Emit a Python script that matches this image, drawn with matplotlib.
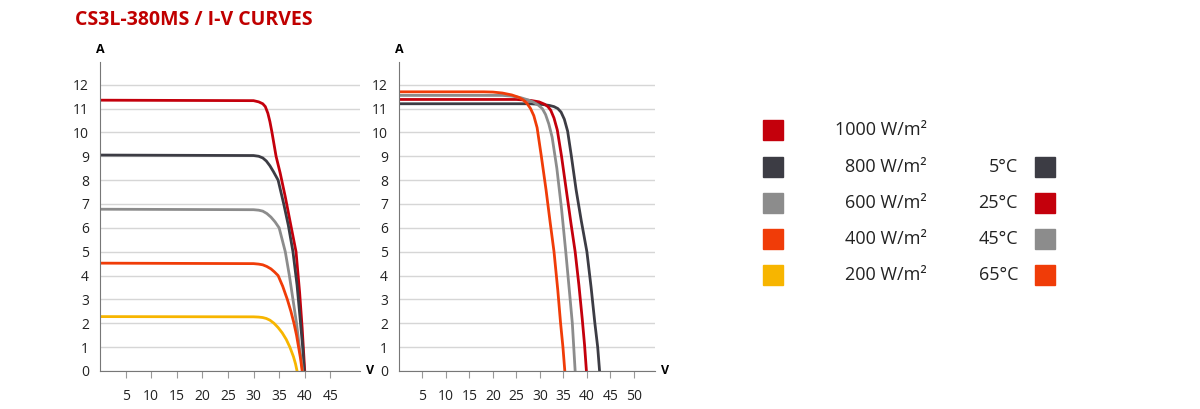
import matplotlib.pyplot as plt

plt.rcParams['font.family'] = ['Open Sans', 'DejaVu Sans']

# left chart: irradiance curves
v_1000 = [0, 30, 31, 31.8, 32.3, 32.8, 33.2, 33.6, 34.0, 34.4, 35.2, 36.2, 37.2, 38.3, 39.0, 39.5, 40]
i_1000 = [11.35, 11.33, 11.28, 11.2, 11.08, 10.8, 10.45, 10, 9.5, 9, 8.3, 7.3, 6.2, 5, 3.3, 1.8, 0]
v_800 = [0, 30, 31, 31.8, 32.5, 33.2, 33.9, 34.8, 35.9, 36.8, 37.7, 38.5, 39.1, 39.6, 39.9]
i_800 = [9.05, 9.03, 9.0, 8.93, 8.8, 8.6, 8.35, 8, 7, 6.1, 5, 3.6, 2.2, 1.0, 0]
v_600 = [0, 30, 31, 31.8, 32.6, 33.4, 34.2, 35, 36.2, 37.0, 37.7, 38.4, 38.9, 39.3, 39.6]
i_600 = [6.78, 6.76, 6.74, 6.7, 6.6, 6.45, 6.25, 6, 5, 4, 3, 2, 1.1, 0.5, 0]
v_400 = [0, 30, 31, 31.8, 32.6, 33.4, 34.1, 34.8, 35.7, 36.6, 37.3, 37.9, 38.4, 38.8, 39.2, 39.5]
i_400 = [4.52, 4.5, 4.48, 4.45, 4.38, 4.28, 4.15, 4, 3.55, 3, 2.5, 2, 1.5, 1, 0.5, 0]
v_200 = [0, 30, 31, 31.8, 32.5, 33.2, 34, 34.8, 35.6, 36.4, 37.1, 37.8, 38.2, 38.5]
i_200 = [2.28, 2.27, 2.26, 2.24, 2.2, 2.13, 2.0, 1.82, 1.6, 1.32, 1, 0.6, 0.3, 0]

# right chart: temperature curves
v_65 = [0, 18, 20, 22, 24, 25.5, 26.5, 27.3, 28, 28.7, 29.4, 30.3, 31.3, 32.2, 33, 33.8, 34.4, 34.9, 35.3]
i_65 = [11.7, 11.7, 11.69, 11.65, 11.57, 11.47, 11.35, 11.2, 11, 10.7, 10.2, 9, 7.6, 6.2, 5, 3.4, 2, 1, 0]
v_45 = [0, 22, 24, 26, 27.5, 28.6, 29.6, 30.5, 31.2, 31.9, 32.6, 33.6, 34.6, 35.5, 36.3, 36.9, 37.2, 37.5]
i_45 = [11.55, 11.55, 11.52, 11.45, 11.36, 11.27, 11.15, 11, 10.75, 10.35, 9.8, 8.5, 6.8, 5, 3.3, 2, 1, 0]
v_25 = [0, 25, 28, 29.8, 31, 31.7, 32.3, 33.0, 33.7, 34.6, 35.6, 36.6, 37.5, 38.3, 39.0, 39.5, 39.9]
i_25 = [11.38, 11.38, 11.34, 11.28, 11.18, 11.08, 10.93, 10.6, 10.1, 9, 7.6, 6.2, 5, 3.6, 2.2, 1.1, 0]
v_5 = [0, 28, 30.5, 32, 33, 33.8, 34.5, 35.2, 35.9, 36.7, 37.7, 38.8, 40, 40.9, 41.7, 42.3, 42.7]
i_5 = [11.2, 11.2, 11.17, 11.13, 11.08, 11, 10.85, 10.55, 10.05, 9, 7.6, 6.3, 5, 3.5, 2, 1, 0]

irr_labels = ['1000 W/m²', '800 W/m²', '600 W/m²', '400 W/m²', '200 W/m²']
temp_labels = ['5°C', '25°C', '45°C', '65°C']

RED = '#c4000c'
DARK = '#3c3c44'
GRAY = '#8c8c8c'
ORANGE = '#f03c08'
YELLOW = '#f7b500'

fig = plt.figure(figsize=(12, 4.09), dpi=100)
W, H = 1200, 409


def make_ax(x0, x1, xmax, xticks):
    ax = fig.add_axes([x0 / W, (H - 371) / H, (x1 - x0) / W, (371 - 62) / H])
    ax.set_xlim(0, xmax)
    ax.set_ylim(0, 12.95)
    for s in ['top', 'right']:
        ax.spines[s].set_visible(False)
    for s in ['left', 'bottom']:
        ax.spines[s].set_color('#777777')
    ax.set_yticks(range(0, 13))
    ax.set_xticks(xticks)
    ax.tick_params(axis='y', length=0, labelsize=10, pad=8, colors='#222222')
    ax.tick_params(axis='x', length=5, direction='out', labelsize=10, color='#999999', labelcolor='#222222', pad=8)
    ax.grid(axis='y', color='#d6d6d6', linewidth=1)
    ax.set_axisbelow(True)
    ax.text(0, 1.02, 'A', transform=ax.transAxes, ha='center', va='bottom', fontsize=9, fontweight='bold')
    ax.text(1.025, 0, 'V', transform=ax.transAxes, ha='left', va='center', fontsize=9, fontweight='bold')
    return ax


ax1 = make_ax(100, 360, 50.8, [5, 10, 15, 20, 25, 30, 35, 40, 45])
ax1.plot(v_1000, i_1000, color=RED, lw=2)
ax1.plot(v_800, i_800, color=DARK, lw=2)
ax1.plot(v_600, i_600, color=GRAY, lw=2)
ax1.plot(v_400, i_400, color=ORANGE, lw=2)
ax1.plot(v_200, i_200, color=YELLOW, lw=2)

ax2 = make_ax(399, 655, 54.5, [5, 10, 15, 20, 25, 30, 35, 40, 45, 50])
ax2.plot(v_5, i_5, color=DARK, lw=2)
ax2.plot(v_25, i_25, color=RED, lw=2)
ax2.plot(v_45, i_45, color=GRAY, lw=2)
ax2.plot(v_65, i_65, color=ORANGE, lw=2)

fig.text(75 / W, 1 - 20 / H, 'CS3L-380MS / I-V CURVES', color='#c00000',
         fontsize=14, fontweight='bold', va='center', ha='left')

rows = [130, 167, 203, 239, 275]
irr_colors = [RED, DARK, GRAY, ORANGE, YELLOW]
for y, lab, c in zip(rows, irr_labels, irr_colors):
    fig.patches.append(plt.Rectangle((763 / W, 1 - (y + 10) / H), 20 / W, 20 / H,
                                     transform=fig.transFigure, color=c))
    fig.text(927 / W, 1 - y / H, lab, ha='right', va='center', fontsize=13, color='#222222')

temp_colors = [DARK, RED, GRAY, ORANGE]
for y, lab, c in zip(rows[1:], temp_labels, temp_colors):
    fig.patches.append(plt.Rectangle((1035 / W, 1 - (y + 10) / H), 20 / W, 20 / H,
                                     transform=fig.transFigure, color=c))
    fig.text(1018 / W, 1 - y / H, lab, ha='right', va='center', fontsize=13, color='#222222')

fig.savefig('out.png', dpi=100)
